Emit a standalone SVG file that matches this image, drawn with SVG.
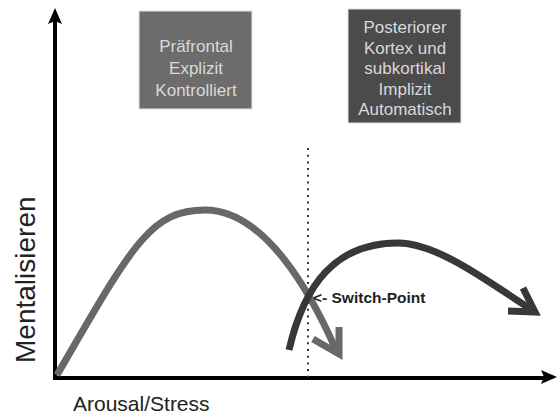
<svg xmlns="http://www.w3.org/2000/svg" width="558" height="418" viewBox="0 0 558 418">
<style>
.box1{fill:#6c6c6c}
.box2{fill:#4b4b4b}
.bt{font-family:"Liberation Sans",Arial,sans-serif;font-size:17px;fill:#d9d9d9;text-anchor:middle}
.ax{stroke:#000;stroke-width:4;fill:none}
.axh{fill:#000}
.lab{font-family:"Liberation Sans",Arial,sans-serif;fill:#222}
.c1{stroke:#686868;stroke-width:7;fill:none;stroke-linecap:butt}
.c2{stroke:#383838;stroke-width:7;fill:none;stroke-linecap:butt}
.hd{stroke-linejoin:miter;stroke-miterlimit:10}
</style>
<rect width="558" height="418" fill="#fff"/>
<g id="box-praefrontal">
<rect class="box1" x="139" y="11" width="113" height="98" stroke="#e4e4e4" stroke-width="1"/>
<text class="bt" x="196" y="52">Präfrontal</text>
<text class="bt" x="196" y="74">Explizit</text>
<text class="bt" x="196" y="96">Kontrolliert</text>
</g>
<g id="box-posterior">
<rect class="box2" x="348" y="9" width="113" height="114" stroke="#e4e4e4" stroke-width="1"/>
<text class="bt" x="405" y="33">Posteriorer</text>
<text class="bt" x="405" y="53.5">Kortex und</text>
<text class="bt" x="405" y="74">subkortikal</text>
<text class="bt" x="405" y="94.5">Implizit</text>
<text class="bt" x="405" y="115">Automatisch</text>
</g>
<g id="axes">
<path class="ax" d="M55,378 V20 M53,378 H546"/>
<path class="axh" d="M55,8 L62,24 L55,21 L48,24 Z"/>
<path class="axh" d="M557,377 L541,384 L544,377 L541,370 Z"/>
<text class="lab" x="73" y="411" font-size="21">Arousal/Stress</text>
<text class="lab" transform="translate(35,363) rotate(-90)" font-size="28">Mentalisieren</text>
</g>
<g id="switch-line">
<line x1="308" y1="148" x2="308" y2="377" stroke="#333" stroke-width="2" stroke-dasharray="2 4.7"/>
</g>
<g id="connectors">
<path id="curve-explicit" class="c1" d="M57,375 C132,246 150,210 205,210 C265,210 311,293 336,350"/>
<path class="c1 hd" d="M339,327 L339,354 L313,339"/>
<path id="curve-implicit" class="c2" d="M289,350 C304,285 335,243 398,243 C438,243 490,283 532,310"/>
<path class="c2 hd" d="M523,288 L535,312 L508,311"/>
</g>
<g id="switch-label">
<text class="lab" x="313" y="303" font-size="15.5" font-weight="bold" fill="#111">&lt;- Switch-Point</text>
</g>
</svg>
